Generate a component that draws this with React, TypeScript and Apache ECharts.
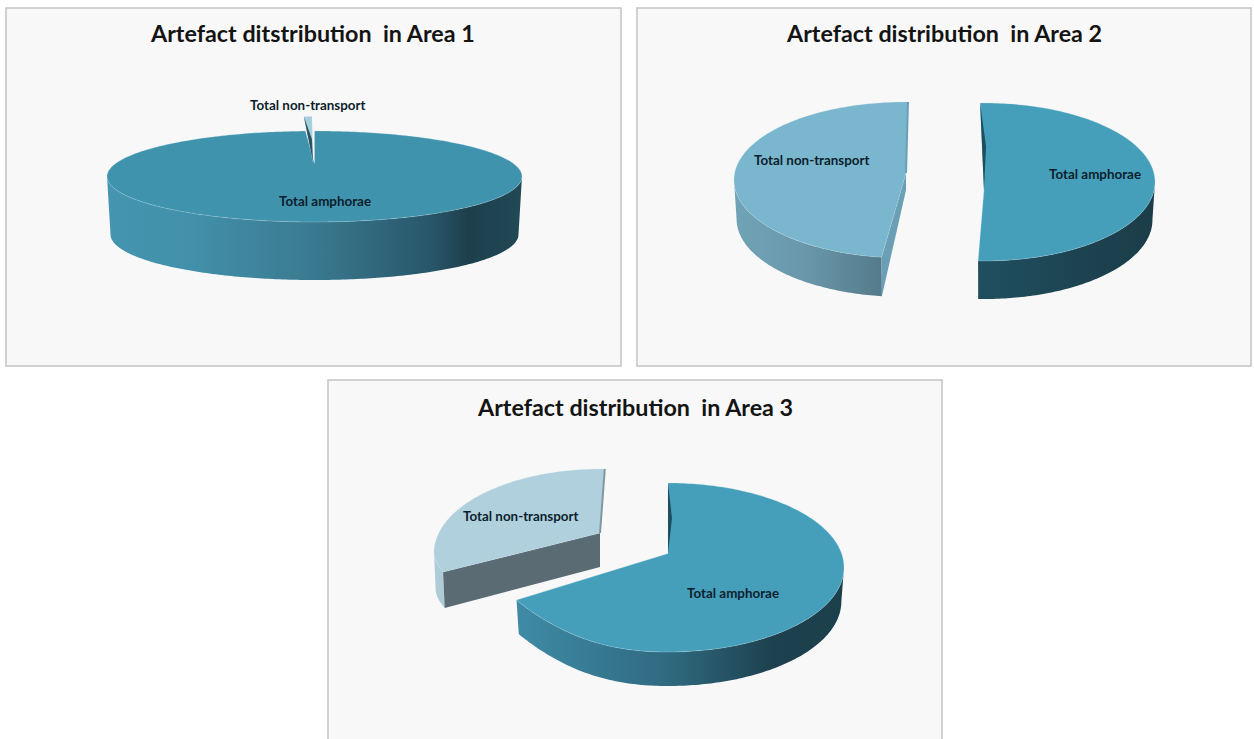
import React, { useEffect, useRef } from "react";
import * as echarts from "echarts";

const categories = ["Total amphorae", "Total non-transport"];
const titles = [
  "Artefact ditstribution  in Area 1",
  "Artefact distribution  in Area 2",
  "Artefact distribution  in Area 3",
];
const area1Values = [99.3, 0.7];
const area2Values = [50.8, 49.2];
const area3Values = [66.5, 33.5];

const FONT = "Lato, Carlito, sans-serif";

const panels = [
  { x: 6, y: 8, w: 615, h: 358 },
  { x: 637, y: 8, w: 614, h: 358 },
  { x: 328, y: 380, w: 614, h: 362 },
];
const titlePos = [
  { left: 151, top: 21 },
  { left: 787, top: 21 },
  { left: 478, top: 395 },
];

const areaLayouts: any[] = [
  [
    {
      cx: 314.5, cy: 176.5, rx: 207.5, ry: 45.5, depth: 58, k: 0.983, apexDx: 0, apexDy: -13, apexDepth: 58,
      startTweak: 0, endTweak: 0, top: "#4093ad",
      wall: [[0, "#4595b0"], [0.2, "#4290aa"], [0.5, "#3a7a90"], [0.78, "#28566a"], [0.87, "#1d3f4c"], [1, "#214956"]],
      label: [279, 201],
    },
    {
      cx: 313, cy: 162, rx: 207.5, ry: 45.5, depth: 0, k: 1, apexDx: 0, apexDy: 0, apexDepth: 0,
      startTweak: 0, endTweak: -0.3, top: "#a6cedd", notch: 3.5, notchColor: "#2b5564",
      wall: [[0, "#a6cedd"], [1, "#a6cedd"]],
      label: [250, 105],
    },
  ],
  [
    {
      cx: 984, cy: 182, rx: 171, ry: 79, depth: 38, k: 0.985, apexDx: 0, apexDy: 8, apexDepth: 38,
      startTweak: -1.3, endTweak: -0.9, top: "#459fbb", notch: 4, notchColor: "#1f4f5f",
      wall: [[0.48, "#1f5060"], [0.8, "#1d4250"], [1, "#1b3d49"]],
      label: [1049, 174],
    },
    {
      cx: 905, cy: 180, rx: 171, ry: 78, depth: 39, k: 0.985, apexDx: 1, apexDy: -7, apexDepth: 17,
      startTweak: 5, endTweak: 1, top: "#7ab6cd", face: "#6a9fb5", endEdge: "#6a9fb5",
      wall: [[0, "#70a3b7"], [0.2, "#6a98ab"], [0.43, "#547b8b"], [1, "#547b8b"]],
      label: [754, 160],
    },
  ],
  [
    {
      cx: 668, cy: 567.5, rx: 176, ry: 84.5, depth: 34, k: 0.985, apexDx: 0, apexDy: -14, apexDepth: 34, flat: 0.38,
      startTweak: 0, endTweak: 0, top: "#459fbb", notch: 4, notchColor: "#1f4f5f",
      wall: [[0.07, "#3f8ba6"], [0.5, "#2f6a80"], [0.8, "#1d414e"], [1, "#1c3f4c"]],
      label: [687, 593],
    },
    {
      cx: 601, cy: 553, rx: 167, ry: 84, depth: 36, k: 0.99, apexDx: -1, apexDy: -20, apexDepth: 34, flat: 0.36,
      startTweak: 11.6, endTweak: 1.3, top: "#b0d0de", face: "#5a6b74", endEdge: "#7f98a3",
      wall: [[0, "#aecbd8"], [1, "#aecbd8"]],
      label: [463, 516],
    },
  ],
];

const rad = (d: number) => (d * Math.PI) / 180;

function rim(s: any, a: number, drop = 0, k = 1): number[] {
  const sin = Math.sin(rad(a));
  const cos = Math.cos(rad(a));
  // the lower-left quarter of the disc looks flatter in the reference's perspective
  const flat = s.flat && sin < 0 && cos < 0 ? 1 + s.flat * sin * sin * sin : 1;
  return [s.cx + s.rx * k * sin, s.cy - s.ry * cos * flat + drop];
}

function arc(s: any, a1: number, a2: number, drop = 0, k = 1): number[][] {
  const pts: number[][] = [];
  const steps = Math.max(2, Math.ceil(Math.abs(a2 - a1)));
  for (let i = 0; i <= steps; i++) pts.push(rim(s, a1 + ((a2 - a1) * i) / steps, drop, k));
  return pts;
}

function makeSeries(values: number[], layout: any[]) {
  const total = values.reduce((a, b) => a + b, 0);
  const renderItem = (params: any, api: any) => {
    const i = params.dataIndex;
    const s = layout[i];
    const before = values.slice(0, i).reduce((a, b) => a + b, 0);
    const a1 = (before / total) * 360 + s.startTweak;
    const a2 = ((before + Number(api.value(0))) / total) * 360 + s.endTweak;
    const apex = [s.cx + s.apexDx, s.cy + s.apexDy];
    const apexLow = [apex[0], apex[1] + s.apexDepth];
    const children: any[] = [];

    // side wall: the part of the rim that faces the viewer
    const w1 = Math.max(a1, 90);
    const w2 = Math.min(a2, 270);
    if (s.depth > 0 && w2 > w1) {
      const upper = arc(s, w1, w2);
      const lower = arc(s, w2, w1, s.depth, s.k);
      children.push({
        type: "polygon",
        shape: { points: upper.concat(lower) },
        style: {
          fill: new echarts.graphic.LinearGradient(
            s.cx - s.rx, 0, s.cx + s.rx, 0,
            s.wall.map((w: any) => ({ offset: w[0], color: w[1] })),
            true
          ),
        },
      });
    }
    // cut face under the first radial edge
    if (s.face) {
      children.push({
        type: "polygon",
        shape: { points: [rim(s, a1), apex, apexLow, rim(s, a1, s.depth, s.k)] },
        style: { fill: s.face },
      });
    }
    // top face
    children.push({
      type: "polygon",
      shape: { points: [apex].concat(arc(s, a1, a2)) },
      style: { fill: s.top, stroke: "rgba(205,232,240,0.25)", lineWidth: 1 },
    });
    // thin visible wall along the last radial edge
    if (s.endEdge) {
      children.push({
        type: "polyline",
        shape: { points: [rim(s, a2), apex] },
        style: { stroke: s.endEdge, lineWidth: 2, fill: "none" },
      });
    }
    // dark sliver along the first edge
    if (s.notch) {
      const r = rim(s, a1);
      const mid = [(r[0] + apex[0]) / 2 + s.notch, (r[1] + apex[1]) / 2];
      children.push({
        type: "polygon",
        shape: { points: [r, mid, apex] },
        style: { fill: s.notchColor },
      });
    }
    children.push({
      type: "text",
      x: s.label[0],
      y: s.label[1],
      style: {
        text: categories[i],
        fill: "#0c1e2c",
        font: `bold 13.4px ${FONT}`,
        textAlign: "left",
        textVerticalAlign: "middle",
      },
    });
    return { type: "group", children };
  };
  return {
    type: "custom",
    coordinateSystem: "none",
    silent: true,
    z: 3,
    data: values.map((v, i) => ({ name: categories[i], value: [v] })),
    renderItem,
  };
}

export default function App() {
  const ref = useRef<HTMLDivElement>(null);
  useEffect(() => {
    const chart = echarts.init(ref.current as HTMLDivElement, undefined, { renderer: "svg" });
    chart.setOption({
      animation: false,
      backgroundColor: "#ffffff",
      title: titles.map((t, i) => ({
        text: t,
        left: titlePos[i].left,
        top: titlePos[i].top,
        padding: 0,
        z: 5,
        textStyle: { fontFamily: FONT, fontSize: 23.3, fontWeight: "bold", color: "#141414" },
      })),
      graphic: panels.map((p) => ({
        type: "rect",
        silent: true,
        z: 0,
        shape: { x: p.x, y: p.y, width: p.w, height: p.h },
        style: { fill: "#f8f8f8", stroke: "#c4c4c4", lineWidth: 1.5 },
      })),
      series: [
        makeSeries(area1Values, areaLayouts[0]),
        makeSeries(area2Values, areaLayouts[1]),
        makeSeries(area3Values, areaLayouts[2]),
      ],
    });
    return () => chart.dispose();
  }, []);
  return <div ref={ref} style={{ position: "absolute", left: 0, top: 0, width: 1254, height: 739 }} />;
}
